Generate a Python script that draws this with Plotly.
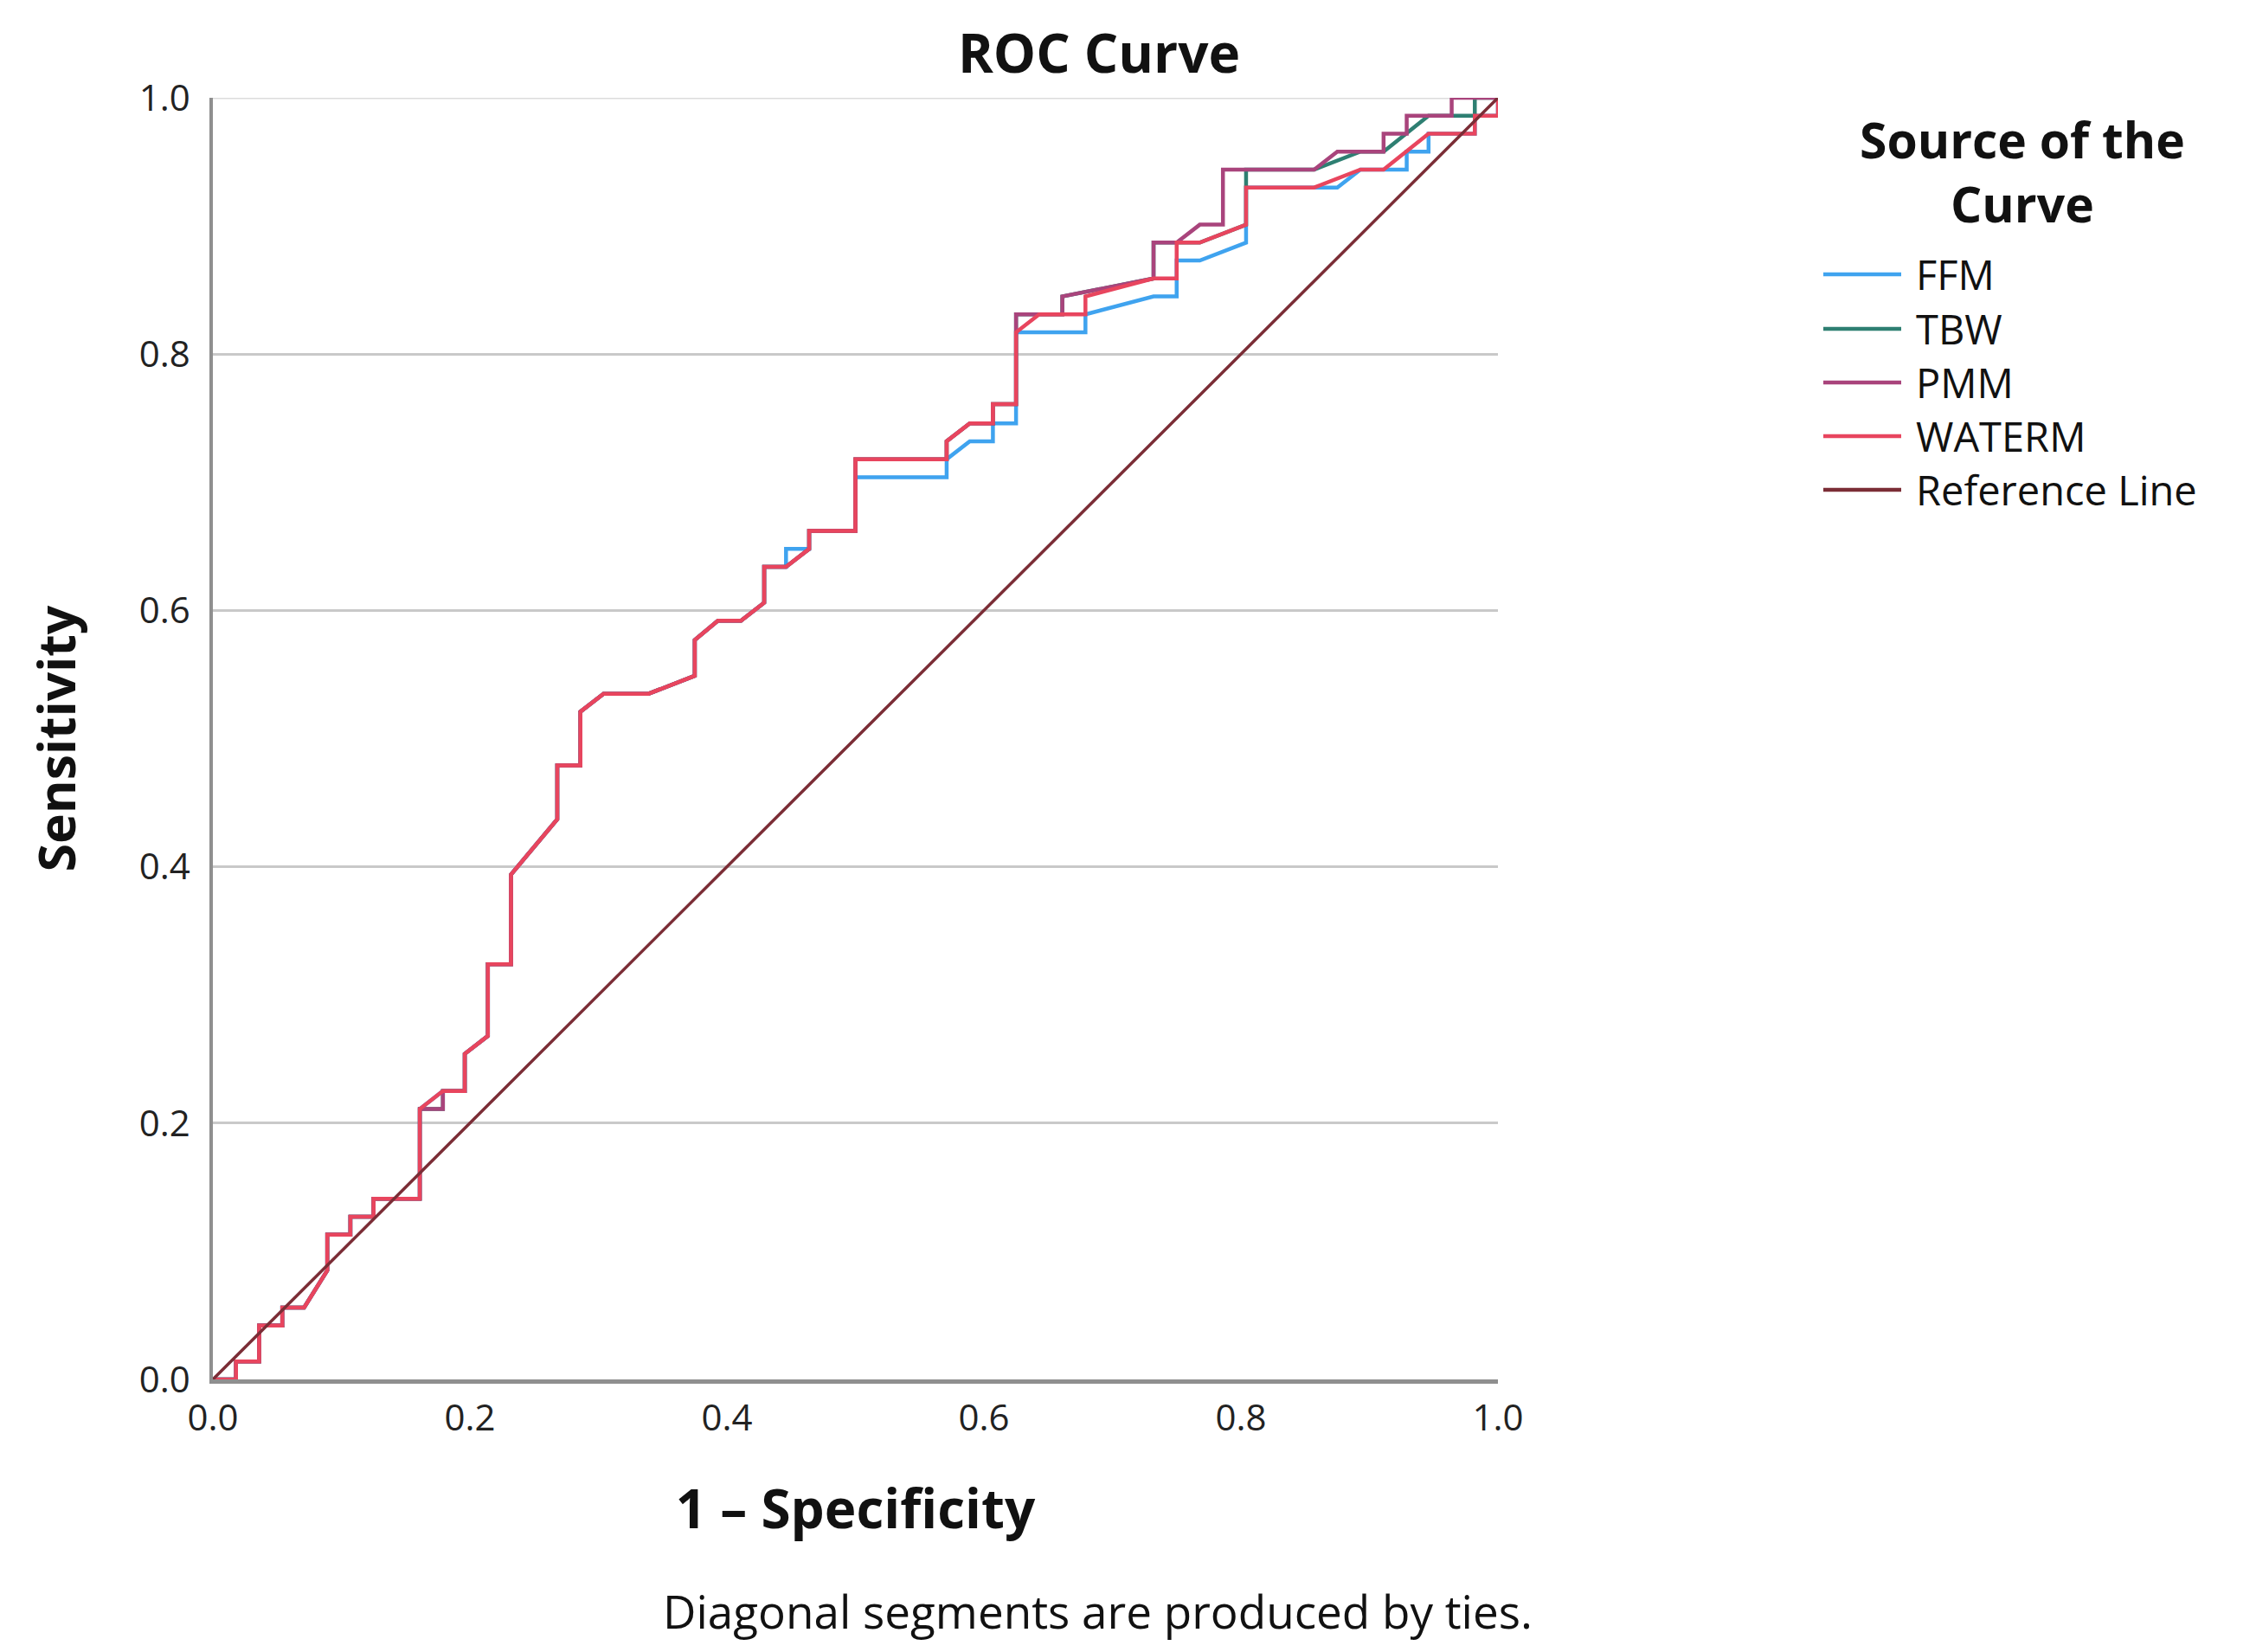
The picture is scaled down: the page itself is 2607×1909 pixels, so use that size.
import plotly.graph_objects as go

# ---- data ----
tick_vals = [0.0, 0.2, 0.4, 0.6, 0.8, 1.0]
tick_text = ["0.0", "0.2", "0.4", "0.6", "0.8", "1.0"]

ffm_x = [0, 0.018, 0.018, 0.036, 0.036, 0.054, 0.054, 0.071, 0.089, 0.089, 0.107, 0.107, 0.125, 0.125, 0.161, 0.161,
         0.179, 0.196, 0.196, 0.214, 0.214, 0.232, 0.232, 0.268, 0.268, 0.286, 0.286, 0.304, 0.339, 0.375, 0.375,
         0.393, 0.411, 0.429, 0.429, 0.446, 0.446, 0.464, 0.464, 0.5, 0.5, 0.571, 0.571, 0.589, 0.607, 0.607, 0.625,
         0.625, 0.679, 0.679, 0.732, 0.75, 0.75, 0.768, 0.804, 0.804, 0.875, 0.893, 0.929, 0.929, 0.946, 0.946,
         0.982, 0.982, 1.0, 1.0]
ffm_y = [0, 0, 0.014, 0.014, 0.042, 0.042, 0.056, 0.056, 0.085, 0.113, 0.113, 0.127, 0.127, 0.141, 0.141, 0.211,
         0.225, 0.225, 0.254, 0.268, 0.324, 0.324, 0.394, 0.437, 0.479, 0.479, 0.521, 0.535, 0.535, 0.549, 0.577,
         0.592, 0.592, 0.606, 0.634, 0.634, 0.648, 0.648, 0.662, 0.662, 0.704, 0.704, 0.718, 0.732, 0.732, 0.746, 0.746,
         0.817, 0.817, 0.831, 0.845, 0.845, 0.873, 0.873, 0.887, 0.930, 0.930, 0.944, 0.944, 0.958, 0.958, 0.972,
         0.972, 0.986, 0.986, 1.0]

tbw_x = [0, 0.018, 0.018, 0.036, 0.036, 0.054, 0.054, 0.071, 0.089, 0.089, 0.107, 0.107, 0.125, 0.125, 0.161, 0.161,
         0.179, 0.179, 0.196, 0.196, 0.214, 0.214, 0.232, 0.232, 0.268, 0.268, 0.286, 0.286, 0.304, 0.339, 0.375, 0.375,
         0.393, 0.411, 0.429, 0.429, 0.446, 0.464, 0.464, 0.5, 0.5, 0.571, 0.571, 0.589, 0.607, 0.607, 0.625,
         0.625, 0.661, 0.661, 0.732, 0.732, 0.75, 0.768, 0.804, 0.804, 0.857, 0.893, 0.911, 0.946, 0.982, 0.982, 1.0]
tbw_y = [0, 0, 0.014, 0.014, 0.042, 0.042, 0.056, 0.056, 0.085, 0.113, 0.113, 0.127, 0.127, 0.141, 0.141, 0.211,
         0.211, 0.225, 0.225, 0.254, 0.268, 0.324, 0.324, 0.394, 0.437, 0.479, 0.479, 0.521, 0.535, 0.535, 0.549, 0.577,
         0.592, 0.592, 0.606, 0.634, 0.634, 0.648, 0.662, 0.662, 0.718, 0.718, 0.732, 0.746, 0.746, 0.761, 0.761,
         0.831, 0.831, 0.845, 0.859, 0.887, 0.887, 0.887, 0.901, 0.944, 0.944, 0.958, 0.958, 0.986, 0.986, 1.0, 1.0]

pmm_x = [0, 0.018, 0.018, 0.036, 0.036, 0.054, 0.054, 0.071, 0.089, 0.089, 0.107, 0.107, 0.125, 0.125, 0.161, 0.161,
         0.179, 0.179, 0.196, 0.196, 0.214, 0.214, 0.232, 0.232, 0.268, 0.268, 0.286, 0.286, 0.304, 0.339, 0.375, 0.375,
         0.393, 0.411, 0.429, 0.429, 0.446, 0.464, 0.464, 0.5, 0.5, 0.571, 0.571, 0.589, 0.607, 0.607, 0.625,
         0.625, 0.661, 0.661, 0.732, 0.732, 0.75, 0.768, 0.786, 0.786, 0.857, 0.875, 0.911, 0.911, 0.929, 0.929,
         0.964, 0.964, 1.0]
pmm_y = [0, 0, 0.014, 0.014, 0.042, 0.042, 0.056, 0.056, 0.085, 0.113, 0.113, 0.127, 0.127, 0.141, 0.141, 0.211,
         0.211, 0.225, 0.225, 0.254, 0.268, 0.324, 0.324, 0.394, 0.437, 0.479, 0.479, 0.521, 0.535, 0.535, 0.549, 0.577,
         0.592, 0.592, 0.606, 0.634, 0.634, 0.648, 0.662, 0.662, 0.718, 0.718, 0.732, 0.746, 0.746, 0.761, 0.761,
         0.831, 0.831, 0.845, 0.859, 0.887, 0.887, 0.901, 0.901, 0.944, 0.944, 0.958, 0.958, 0.972, 0.972, 0.986,
         0.986, 1.0, 1.0]

waterm_x = [0, 0.018, 0.018, 0.036, 0.036, 0.054, 0.054, 0.071, 0.089, 0.089, 0.107, 0.107, 0.125, 0.125, 0.161, 0.161,
            0.179, 0.196, 0.196, 0.214, 0.214, 0.232, 0.232, 0.268, 0.268, 0.286, 0.286, 0.304, 0.339, 0.375, 0.375,
            0.393, 0.411, 0.429, 0.429, 0.446, 0.464, 0.464, 0.5, 0.5, 0.571, 0.571, 0.589, 0.607, 0.607, 0.625,
            0.625, 0.643, 0.679, 0.679, 0.732, 0.75, 0.75, 0.768, 0.804, 0.804, 0.857, 0.893, 0.911, 0.946, 0.982,
            0.982, 1.0, 1.0]
waterm_y = [0, 0, 0.014, 0.014, 0.042, 0.042, 0.056, 0.056, 0.085, 0.113, 0.113, 0.127, 0.127, 0.141, 0.141, 0.211,
            0.225, 0.225, 0.254, 0.268, 0.324, 0.324, 0.394, 0.437, 0.479, 0.479, 0.521, 0.535, 0.535, 0.549, 0.577,
            0.592, 0.592, 0.606, 0.634, 0.634, 0.648, 0.662, 0.662, 0.718, 0.718, 0.732, 0.746, 0.746, 0.761, 0.761,
            0.817, 0.831, 0.831, 0.845, 0.859, 0.859, 0.887, 0.887, 0.901, 0.930, 0.930, 0.944, 0.944, 0.972, 0.972,
            0.986, 0.986, 1.0]

ref_x = [0.0, 1.0]
ref_y = [0.0, 1.0]

series_names = ["FFM", "TBW", "PMM", "WATERM", "Reference Line"]
series_colors = ["#3fa3ef", "#2e7f72", "#a9447c", "#e8455e", "#7b2d36"]
legend_title = "Source of the<br>Curve"

FONT = "Open Sans"
W, H = 2607, 1909
L, R, T, B = 246, 1731, 113, 1594   # plot-area pixel edges


def px_x(p):
    return (p - L) / (R - L)


def px_y(p):
    return (B - p) / (B - T)


fig = go.Figure()
data_sets = [(ffm_x, ffm_y), (tbw_x, tbw_y), (pmm_x, pmm_y), (waterm_x, waterm_y), (ref_x, ref_y)]
for (xs, ys), name, col in zip(data_sets, series_names, series_colors):
    fig.add_trace(go.Scatter(x=xs, y=ys, mode="lines", name=name, showlegend=False,
                             line=dict(color=col, width=4.5 if name != "Reference Line" else 3.5),
                             cliponaxis=False))

# ---- legend drawn as shapes + text ----
shapes = [dict(type="line", xref="paper", yref="y", x0=0, x1=1, y0=1, y1=1,
               line=dict(color="#dcdcdc", width=3), layer="below")]
annotations = []
legend_y = [317, 380, 442, 504, 566]
for name, col, yy in zip(series_names, series_colors, legend_y):
    shapes.append(dict(type="line", xref="paper", yref="paper",
                       x0=px_x(2107), x1=px_x(2197), y0=px_y(yy), y1=px_y(yy),
                       line=dict(color=col, width=4.5)))
    annotations.append(dict(text=name, xref="paper", yref="paper", x=px_x(2212), y=px_y(yy),
                            xanchor="left", yanchor="middle", showarrow=False,
                            font=dict(size=47, family=FONT, color="#111111")))
annotations.append(dict(text="<b>" + legend_title + "</b>", xref="paper", yref="paper",
                        x=px_x(2337), y=px_y(198), xanchor="center", yanchor="middle", align="center",
                        showarrow=False, font=dict(size=57, family=FONT, color="#111111")))
annotations.append(dict(text="Diagonal segments are produced by ties.", xref="paper", yref="paper",
                        x=px_x(1268), y=px_y(1862), xanchor="center", yanchor="middle",
                        showarrow=False, font=dict(size=53, family=FONT, color="#111111")))

fig.update_layout(
    width=W, height=H,
    margin=dict(l=L, r=W - R, t=T, b=H - B),
    paper_bgcolor="white", plot_bgcolor="white",
    font=dict(family=FONT, color="#111111"),
    title=dict(text="<b>ROC Curve</b>", x=1270 / W, xanchor="center",
               y=1 - 62 / H, yanchor="middle", yref="container",
               font=dict(size=62, family=FONT, color="#111111")),
    showlegend=False,
    shapes=shapes,
    annotations=annotations,
)

fig.update_xaxes(
    range=[0, 1], tickvals=tick_vals, ticktext=tick_text, showgrid=False, zeroline=False,
    showline=True, linecolor="#8f8f8f", linewidth=5, ticks="", ticklabelstandoff=4,
    tickfont=dict(size=42, family=FONT, color="#222222"),
    title=dict(text="<b>1 – Specificity</b>", standoff=60, font=dict(size=62, family=FONT, color="#111111")),
)
fig.update_yaxes(
    range=[0, 1], tickvals=tick_vals, ticktext=tick_text, showgrid=True, gridcolor="#c9c9c9", gridwidth=3,
    zeroline=False, showline=True, linecolor="#8f8f8f", linewidth=3.5, ticks="", ticklabelstandoff=14,
    tickfont=dict(size=42, family=FONT, color="#222222"),
    title=dict(text="<b>Sensitivity</b>", standoff=55, font=dict(size=59, family=FONT, color="#111111")),
)

fig.write_html("out.html", config={"displayModeBar": False},
               post_script="document.body.style.margin='0px';")
